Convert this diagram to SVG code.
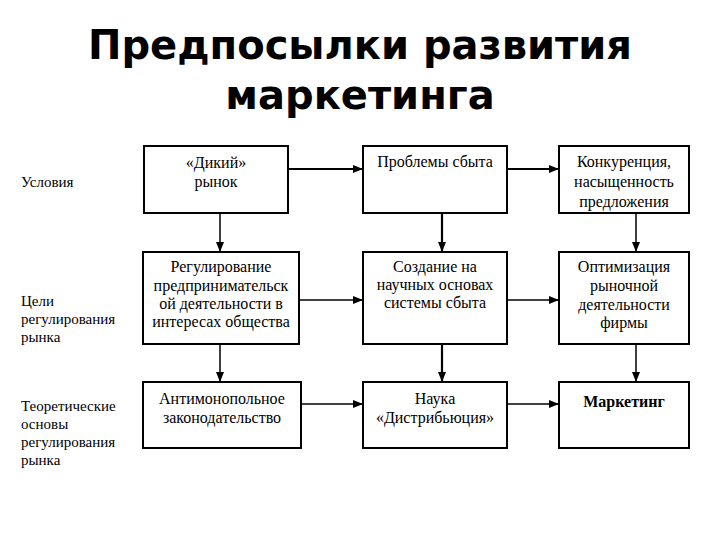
<svg xmlns="http://www.w3.org/2000/svg" width="720" height="540" viewBox="0 0 720 540">
<defs>
<style>
.title{font-family:"DejaVu Sans",sans-serif;font-weight:bold;font-size:40px;fill:#000;text-anchor:middle}
.box{fill:#fff;stroke:#000;stroke-width:2}
.t{font-family:"Liberation Serif","Times New Roman",serif;font-size:16px;fill:#000;text-anchor:middle}
.lbl{font-family:"Liberation Serif","Times New Roman",serif;font-size:15px;fill:#000}
.c{stroke:#000;stroke-width:1.5;fill:none;marker-end:url(#ah)}
.c2{stroke:#000;stroke-width:2.2;fill:none;marker-end:url(#ah)}
</style>
<marker id="ah" viewBox="0 0 10 8" refX="10" refY="4" markerWidth="10" markerHeight="8" markerUnits="userSpaceOnUse" orient="auto">
<path d="M0,0 L10,4 L0,8 Z" fill="#000"/>
</marker>
</defs>
<rect width="720" height="540" fill="#fff"/>
<g id="title">
<text class="title" x="360" y="59">Предпосылки развития</text>
<text class="title" x="360" y="109">маркетинга</text>
</g>
<g id="labels">
<text class="lbl" x="21" y="187">Условия</text>
<text class="lbl" x="21" y="306">Цели</text>
<text class="lbl" x="21" y="324">регулирования</text>
<text class="lbl" x="21" y="342">рынка</text>
<text class="lbl" x="21" y="411">Теоретические</text>
<text class="lbl" x="21" y="429">основы</text>
<text class="lbl" x="21" y="447">регулирования</text>
<text class="lbl" x="21" y="465">рынка</text>
</g>
<g id="connectors">
<line class="c2" x1="288" y1="169" x2="363" y2="169"/>
<line class="c2" x1="507" y1="169" x2="559" y2="169"/>
<line class="c" x1="298" y1="300" x2="363" y2="300"/>
<line class="c" x1="507" y1="300" x2="559" y2="300"/>
<line class="c" x1="301" y1="404" x2="363" y2="404"/>
<line class="c" x1="507" y1="404" x2="559" y2="404"/>
<line class="c" x1="220" y1="213" x2="220" y2="252"/>
<line class="c" x1="220" y1="344" x2="220" y2="382"/>
<line class="c2" x1="442" y1="213" x2="442" y2="252"/>
<line class="c2" x1="442" y1="344" x2="442" y2="382"/>
<line class="c" x1="636" y1="213" x2="636" y2="252"/>
<line class="c" x1="636" y1="344" x2="636" y2="382"/>
</g>
<g id="n11">
<rect class="box" x="144" y="146" width="144" height="67"/>
<text class="t" x="216" y="168">«Дикий»</text>
<text class="t" x="216" y="187">рынок</text>
</g>
<g id="n12">
<rect class="box" x="363" y="146" width="144" height="67"/>
<text class="t" x="435" y="167">Проблемы сбыта</text>
</g>
<g id="n13">
<rect class="box" x="559" y="146" width="130" height="67"/>
<text class="t" x="624" y="167">Конкуренция,</text>
<text class="t" x="624" y="187">насыщенность</text>
<text class="t" x="624" y="207">предложения</text>
</g>
<g id="n21">
<rect class="box" x="143" y="252" width="156" height="92"/>
<text class="t" x="221" y="272">Регулирование</text>
<text class="t" x="221" y="291">предпринимательск</text>
<text class="t" x="221" y="309">ой деятельности в</text>
<text class="t" x="221" y="327">интересах общества</text>
</g>
<g id="n22">
<rect class="box" x="363" y="252" width="144" height="92"/>
<text class="t" x="435" y="272">Создание на</text>
<text class="t" x="435" y="290">научных основах</text>
<text class="t" x="435" y="308">системы сбыта</text>
</g>
<g id="n23">
<rect class="box" x="559" y="252" width="130" height="92"/>
<text class="t" x="624" y="272">Оптимизация</text>
<text class="t" x="624" y="291">рыночной</text>
<text class="t" x="624" y="310">деятельности</text>
<text class="t" x="624" y="328">фирмы</text>
</g>
<g id="n31">
<rect class="box" x="143" y="382" width="158" height="66"/>
<text class="t" x="222" y="404">Антимонопольное</text>
<text class="t" x="222" y="423">законодательство</text>
</g>
<g id="n32">
<rect class="box" x="363" y="382" width="144" height="66"/>
<text class="t" x="435" y="404">Наука</text>
<text class="t" x="435" y="423">«Дистрибьюция»</text>
</g>
<g id="n33">
<rect class="box" x="559" y="382" width="130" height="66"/>
<text class="t" x="624" y="407" font-weight="bold">Маркетинг</text>
</g>
</svg>
